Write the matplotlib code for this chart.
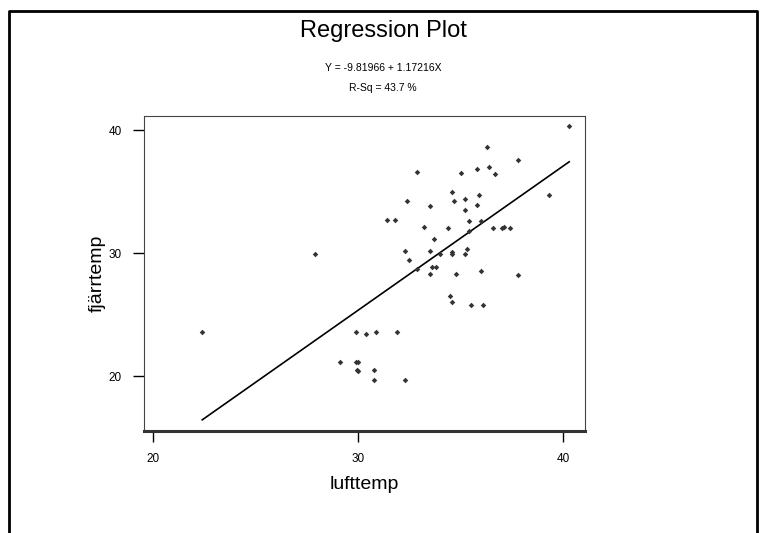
import matplotlib
matplotlib.use("Agg")
import matplotlib.pyplot as plt
from matplotlib.lines import Line2D
import numpy as np

# --- Data ---
lufttemp = [22.4, 27.9, 29.1, 29.9, 29.9, 30.0, 29.95, 30.0, 30.4, 30.8,
            30.8, 30.9, 31.4, 31.8, 31.9, 32.3, 32.3, 32.4, 32.5, 32.9,
            32.9, 33.2, 33.5, 33.5, 33.5, 33.6, 33.8, 33.7, 34.0, 34.4,
            34.5, 34.6, 34.6, 34.6, 34.6, 34.7, 34.8, 35.0, 35.2, 35.2,
            35.2, 35.3, 35.4, 35.4, 35.5, 35.8, 35.8, 35.9, 36.0, 36.0,
            36.1, 36.3, 36.4, 36.6, 36.7, 37.0, 37.1, 37.4, 37.8, 37.8,
            39.3, 40.3]
fjarrtemp = [23.6, 29.9, 21.1, 23.6, 21.1, 21.1, 20.5, 20.4, 23.4, 20.5,
             19.7, 23.6, 32.7, 32.7, 23.6, 19.7, 30.2, 34.2, 29.4, 36.6,
             28.7, 32.1, 33.8, 30.2, 28.3, 28.9, 28.9, 31.1, 29.9, 32.0,
             26.5, 35.0, 30.1, 29.9, 26.0, 34.2, 28.3, 36.5, 34.4, 33.5,
             29.9, 30.3, 32.6, 31.8, 25.8, 33.9, 36.8, 34.7, 32.6, 28.5,
             25.8, 38.6, 37.0, 32.0, 36.4, 32.0, 32.1, 32.0, 37.6, 28.2,
             34.7, 40.3]

intercept = -9.81966
slope = 1.17216
r_sq = 43.7

x_ticks = [20, 30, 40]
y_ticks = [20, 30, 40]

plt.rcParams['font.family'] = ['Liberation Sans Narrow', 'Liberation Sans', 'DejaVu Sans']

fig = plt.figure(figsize=(7.64, 5.33), dpi=100)
ax = fig.add_axes([144 / 764, 102 / 533, 441 / 764, 315 / 533])

ax.scatter(lufttemp, fjarrtemp, marker="D", s=8, color="#333333",
           linewidths=0, zorder=3)

# fitted line from the equation shown in the header
xl = np.array([min(lufttemp), max(lufttemp)])
ax.plot(xl, intercept + slope * xl, color="black", linewidth=1.2)

ax.set_xlim(19.56, 41.07)
ax.set_ylim(15.53, 41.14)
ax.set_xticks(x_ticks)
ax.set_yticks(y_ticks)
ax.tick_params(direction="out", length=8, width=1, labelsize=8.5, pad=8,
               color="black")

for side in ["left", "right", "top"]:
    ax.spines[side].set_linewidth(0.8)
    ax.spines[side].set_color("#444444")
ax.spines["bottom"].set_linewidth(2.2)
ax.spines["bottom"].set_color("#333333")

ax.set_xlabel("lufttemp", fontsize=14, labelpad=8)
ax.set_ylabel("fjärrtemp", fontsize=14, labelpad=2)

fig.text(383 / 764, 1 - 31 / 533, "Regression Plot", fontsize=17,
         ha="center", va="center")
fig.text(383 / 764, 1 - 68 / 533, f"Y = {intercept} + {slope}X", fontsize=7.5,
         ha="center", va="center")
fig.text(383 / 764, 1 - 88 / 533, f"R-Sq = {r_sq} %", fontsize=7.5,
         ha="center", va="center")

# outer frame (left, top, right)
x0, x1, yt = 8.5 / 764, 756.5 / 764, 1 - 10.5 / 533
fig.add_artist(Line2D([x0, x0, x1, x1], [0, yt, yt, 0], color="black",
                      linewidth=2, transform=fig.transFigure))

fig.savefig("out.png", dpi=100)
